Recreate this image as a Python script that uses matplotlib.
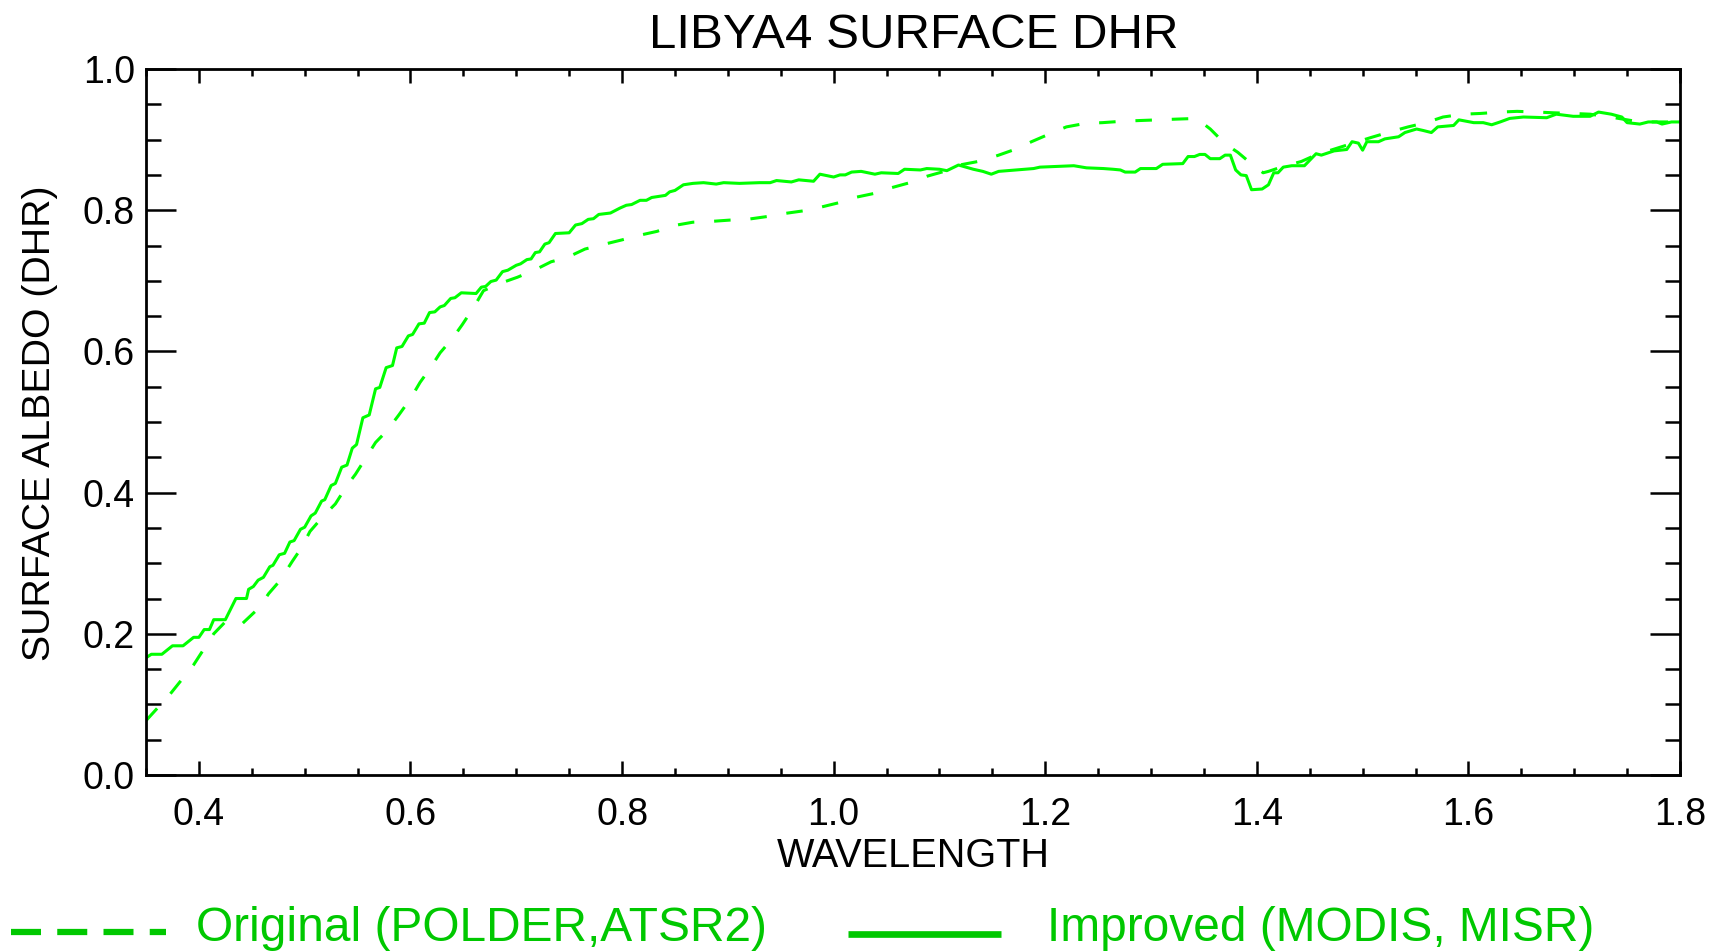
import matplotlib
matplotlib.use("Agg")
import matplotlib.pyplot as plt
from matplotlib.lines import Line2D
from matplotlib.ticker import MultipleLocator, FormatStrFormatter

plt.rcParams['font.family'] = ['Liberation Sans', 'DejaVu Sans']

# ---------------- data ----------------
wl_improved = [0.350, 0.355, 0.365, 0.375, 0.385, 0.395, 0.400, 0.405, 0.410, 0.414,
               0.425, 0.435, 0.445, 0.447, 0.4515, 0.456, 0.461, 0.467, 0.470, 0.476,
               0.481, 0.486, 0.490, 0.496, 0.500, 0.506, 0.510, 0.516, 0.519, 0.525,
               0.529, 0.535, 0.540, 0.545, 0.549, 0.555, 0.561, 0.567, 0.571, 0.577,
               0.583, 0.587, 0.592, 0.598, 0.602, 0.608, 0.613, 0.618, 0.623, 0.628,
               0.632, 0.638, 0.642, 0.648, 0.662, 0.667, 0.671, 0.676, 0.681, 0.687,
               0.692, 0.700, 0.704, 0.710, 0.714, 0.718, 0.722, 0.727, 0.731, 0.737,
               0.750, 0.756, 0.762, 0.768, 0.773, 0.778, 0.789, 0.798, 0.804, 0.809,
               0.817, 0.823, 0.828, 0.841, 0.845, 0.850, 0.858, 0.867, 0.877, 0.889,
               0.896, 0.911, 0.930, 0.940, 0.946, 0.960, 0.967, 0.981, 0.987, 1.000,
               1.006, 1.011, 1.017, 1.026, 1.039, 1.045, 1.061, 1.067, 1.082, 1.088,
               1.100, 1.107, 1.118, 1.132, 1.141, 1.149, 1.156, 1.173, 1.189, 1.195,
               1.227, 1.239, 1.255, 1.264, 1.271, 1.2755, 1.285, 1.290, 1.305, 1.311,
               1.330, 1.335, 1.341, 1.346, 1.351, 1.356, 1.365, 1.370, 1.375, 1.380,
               1.385, 1.390, 1.395, 1.405, 1.411, 1.416, 1.420, 1.425, 1.433, 1.445,
               1.456, 1.461, 1.473, 1.485, 1.490, 1.496, 1.500, 1.504, 1.515, 1.521,
               1.534, 1.540, 1.551, 1.557, 1.565, 1.571, 1.586, 1.591, 1.605, 1.614,
               1.622, 1.630, 1.639, 1.652, 1.674, 1.683, 1.699, 1.715, 1.723, 1.735,
               1.745, 1.750, 1.762, 1.770, 1.778, 1.783, 1.792, 1.800]
dhr_improved = [0.166, 0.171, 0.171, 0.183, 0.183, 0.195, 0.195, 0.206, 0.206, 0.220,
                0.220, 0.250, 0.250, 0.263, 0.267, 0.276, 0.280, 0.295, 0.297, 0.312,
                0.314, 0.330, 0.332, 0.348, 0.351, 0.367, 0.371, 0.388, 0.390, 0.410,
                0.413, 0.436, 0.439, 0.463, 0.468, 0.506, 0.510, 0.547, 0.549, 0.577,
                0.580, 0.605, 0.607, 0.622, 0.624, 0.639, 0.640, 0.655, 0.656, 0.663,
                0.665, 0.675, 0.676, 0.683, 0.682, 0.691, 0.692, 0.699, 0.701, 0.713,
                0.715, 0.722, 0.724, 0.730, 0.731, 0.740, 0.741, 0.752, 0.754, 0.767,
                0.768, 0.779, 0.781, 0.787, 0.788, 0.794, 0.796, 0.803, 0.807, 0.808,
                0.814, 0.814, 0.818, 0.821, 0.826, 0.828, 0.836, 0.838, 0.839, 0.837,
                0.839, 0.838, 0.839, 0.839, 0.842, 0.840, 0.843, 0.841, 0.851, 0.847,
                0.850, 0.850, 0.854, 0.855, 0.851, 0.853, 0.852, 0.858, 0.857, 0.859,
                0.858, 0.856, 0.864, 0.858, 0.855, 0.851, 0.855, 0.857, 0.859, 0.861,
                0.863, 0.860, 0.859, 0.858, 0.857, 0.854, 0.854, 0.859, 0.859, 0.865,
                0.866, 0.876, 0.876, 0.879, 0.879, 0.873, 0.873, 0.878, 0.878, 0.857,
                0.850, 0.849, 0.829, 0.830, 0.836, 0.853, 0.853, 0.861, 0.863, 0.863,
                0.880, 0.878, 0.884, 0.886, 0.897, 0.895, 0.885, 0.897, 0.897, 0.901,
                0.904, 0.910, 0.915, 0.913, 0.910, 0.918, 0.920, 0.928, 0.924, 0.924,
                0.921, 0.925, 0.930, 0.932, 0.931, 0.936, 0.933, 0.933, 0.939, 0.936,
                0.932, 0.924, 0.922, 0.925, 0.925, 0.922, 0.925, 0.925]

wl_original = [0.350, 0.3725, 0.395, 0.414, 0.425, 0.440, 0.457, 0.466, 0.477, 0.488,
               0.497, 0.505, 0.516, 0.529, 0.540, 0.548, 0.559, 0.567, 0.578, 0.589,
               0.600, 0.609, 0.619, 0.628, 0.6395, 0.649, 0.660, 0.669, 0.684, 0.701,
               0.717, 0.733, 0.748, 0.765, 0.781, 0.800, 0.815, 0.833, 0.848, 0.867,
               0.883, 0.902, 0.918, 0.937, 0.952, 0.971, 0.987, 1.006, 1.020, 1.039,
               1.055, 1.072, 1.088, 1.107, 1.119, 1.140, 1.156, 1.173, 1.187, 1.204,
               1.220, 1.238, 1.254, 1.273, 1.289, 1.307, 1.324, 1.343, 1.356, 1.368,
               1.378, 1.382, 1.397, 1.406, 1.411, 1.425, 1.442, 1.457, 1.472, 1.491,
               1.508, 1.526, 1.543, 1.560, 1.576, 1.595, 1.611, 1.630, 1.646, 1.665,
               1.680, 1.699, 1.715, 1.734, 1.746, 1.762, 1.778, 1.800]
dhr_original = [0.077, 0.114, 0.156, 0.200, 0.217, 0.213, 0.237, 0.257, 0.276, 0.302,
                0.322, 0.345, 0.364, 0.384, 0.410, 0.426, 0.452, 0.471, 0.488, 0.510,
                0.533, 0.556, 0.577, 0.598, 0.618, 0.638, 0.663, 0.686, 0.696, 0.705,
                0.715, 0.727, 0.733, 0.745, 0.751, 0.758, 0.764, 0.770, 0.778, 0.783,
                0.784, 0.786, 0.787, 0.791, 0.795, 0.799, 0.804, 0.811, 0.818, 0.824,
                0.832, 0.839, 0.848, 0.856, 0.864, 0.870, 0.878, 0.887, 0.897, 0.908,
                0.918, 0.923, 0.924, 0.926, 0.927, 0.928, 0.929, 0.930, 0.915, 0.897,
                0.886, 0.882, 0.863, 0.853, 0.855, 0.862, 0.869, 0.879, 0.886, 0.895,
                0.903, 0.911, 0.918, 0.924, 0.932, 0.936, 0.937, 0.939, 0.940, 0.939,
                0.938, 0.937, 0.936, 0.932, 0.929, 0.925, 0.925, 0.925]

x_ticks = [0.4, 0.6, 0.8, 1.0, 1.2, 1.4, 1.6, 1.8]
y_ticks = [0.0, 0.2, 0.4, 0.6, 0.8, 1.0]
title = "LIBYA4 SURFACE DHR"
xlabel = "WAVELENGTH"
ylabel = "SURFACE ALBEDO (DHR)"
label_original = "Original (POLDER,ATSR2)"
label_improved = "Improved (MODIS, MISR)"

# ---------------- figure ----------------
W, H = 1710, 951
fig = plt.figure(figsize=(W / 100, H / 100), dpi=100)
ax = fig.add_axes([146 / W, 1 - 775 / H, (1680 - 146) / W, (775 - 69) / H])

line_green = '#00ff00'
legend_green = '#00c800'

ax.plot(wl_improved, dhr_improved, color=line_green, lw=2.2)
ld, = ax.plot(wl_original, dhr_original, color=line_green, lw=2.2)
ld.set_dashes((5.4, 6.5))

ax.set_xlim(0.35, 1.8)
ax.set_ylim(0.0, 1.0)
ax.set_xticks(x_ticks)
ax.set_yticks(y_ticks)
ax.xaxis.set_minor_locator(MultipleLocator(0.05))
ax.yaxis.set_minor_locator(MultipleLocator(0.05))
ax.xaxis.set_major_formatter(FormatStrFormatter('%.1f'))
ax.yaxis.set_major_formatter(FormatStrFormatter('%.1f'))

for s in ax.spines.values():
    s.set_linewidth(2.0)
    s.set_color('black')

ax.tick_params(axis='both', which='both', direction='in', top=True, right=True,
               width=1.8, color='black', labelsize=27)
ax.tick_params(axis='x', which='major', length=10, pad=16)
ax.tick_params(axis='x', which='minor', length=5)
ax.tick_params(axis='y', which='major', length=21.6, pad=8)
ax.tick_params(axis='y', which='minor', length=10.8)

fig.text(914 / W, 1 - 36 / H, title, ha='center', va='center', fontsize=35.5)
fig.text(913 / W, 1 - 856 / H, xlabel, ha='center', va='center', fontsize=28.5)
fig.text(40 / W, 1 - 423 / H, ylabel, ha='center', va='center', fontsize=28.3,
         rotation=90)

# legend (below the plot), drawn in figure coordinates
leg_y_line1 = 1 - 932 / H
leg_y_line2 = 1 - 934 / H
leg_y_text = 1 - 941 / H
fig.add_artist(Line2D([11 / W, 166 / W], [leg_y_line1, leg_y_line1],
                      transform=fig.transFigure, color=legend_green, lw=4.5,
                      dashes=(4.8, 2.6), solid_capstyle='butt',
                      dash_capstyle='butt'))
fig.add_artist(Line2D([848 / W, 1001 / W], [leg_y_line2, leg_y_line2],
                      transform=fig.transFigure, color=legend_green, lw=4.8,
                      solid_capstyle='butt'))
fig.text(196 / W, leg_y_text, label_original, ha='left', va='baseline',
         fontsize=34.5, color=legend_green)
fig.text(1047 / W, leg_y_text, label_improved, ha='left', va='baseline',
         fontsize=34.5, color=legend_green)

fig.savefig('out.png', dpi=100)
